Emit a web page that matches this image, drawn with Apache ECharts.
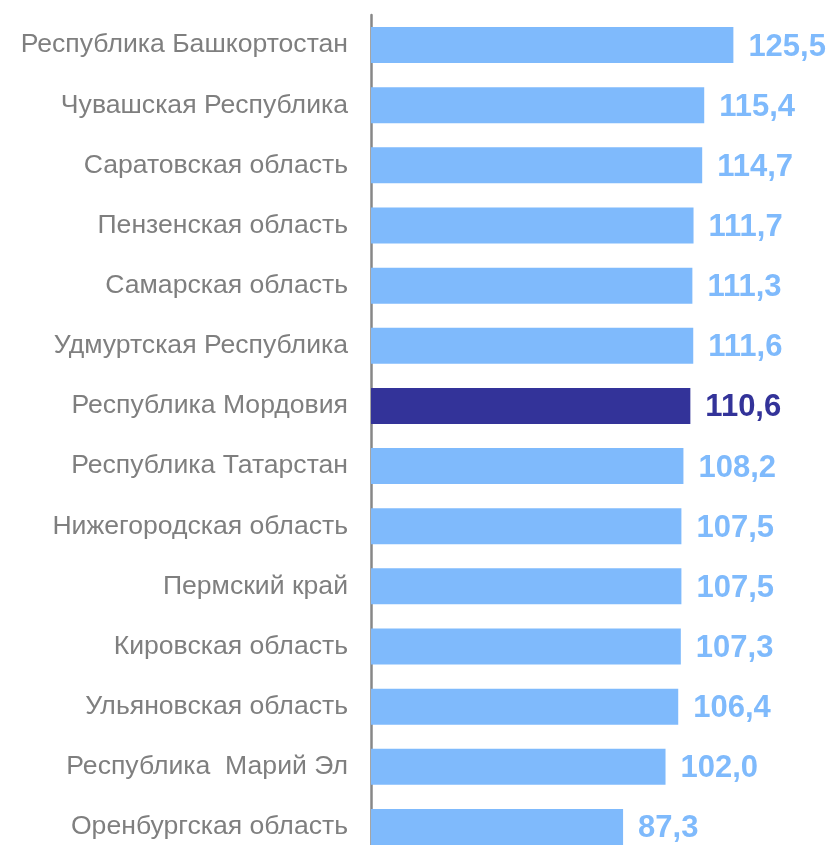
<!DOCTYPE html>
<html>
<head>
<meta charset="utf-8">
<script src="https://cdn.jsdelivr.net/npm/echarts@6/dist/echarts.min.js"></script>
<style>
  html, body { margin: 0; padding: 0; background: #fff; }
  #chart { width: 833px; height: 845px; }
</style>
</head>
<body>
<div id="chart"></div>
<script>
const regions = [
  'Республика Башкортостан',
  'Чувашская Республика',
  'Саратовская область',
  'Пензенская область',
  'Самарская область',
  'Удмуртская Республика',
  'Республика Мордовия',
  'Республика Татарстан',
  'Нижегородская область',
  'Пермский край',
  'Кировская область',
  'Ульяновская область',
  'Республика  Марий Эл',
  'Оренбургская область'
];
const values = [125.5, 115.4, 114.7, 111.7, 111.3, 111.6, 110.6, 108.2, 107.5, 107.5, 107.3, 106.4, 102.0, 87.3];
const highlight = 'Республика Мордовия';

const light = '#7fbafc';
const dark = '#333399';

const chart = echarts.init(document.getElementById('chart'));
chart.setOption({
  animation: false,
  grid: { left: 371, right: 0, top: 15, bottom: -12, containLabel: false, outerBoundsMode: 'none' },
  xAxis: {
    type: 'value', min: 0, max: 160,
    show: false
  },
  yAxis: {
    type: 'category',
    inverse: true,
    data: regions,
    axisLine: { show: true, lineStyle: { color: '#878787', width: 2.5 } },
    axisTick: { show: false },
    axisLabel: {
      margin: 23,
      color: '#7f7f7f',
      fontSize: 26.6,
      fontFamily: 'Liberation Sans, Arial, sans-serif',
      padding: [4, 0, 0, 0]
    }
  },
  series: [{
    type: 'bar',
    barWidth: 36,
    data: values.map((v, i) => ({
      value: v,
      itemStyle: { color: regions[i] === highlight ? dark : light },
      label: { color: regions[i] === highlight ? dark : light }
    })),
    label: {
      show: true,
      position: 'right',
      distance: 15,
      offset: [0, 2],
      fontSize: 31,
      fontWeight: 'bold',
      fontFamily: 'Liberation Sans, Arial, sans-serif',
      formatter: p => p.value.toFixed(1).replace('.', ',')
    }
  }]
});
</script>
</body>
</html>
